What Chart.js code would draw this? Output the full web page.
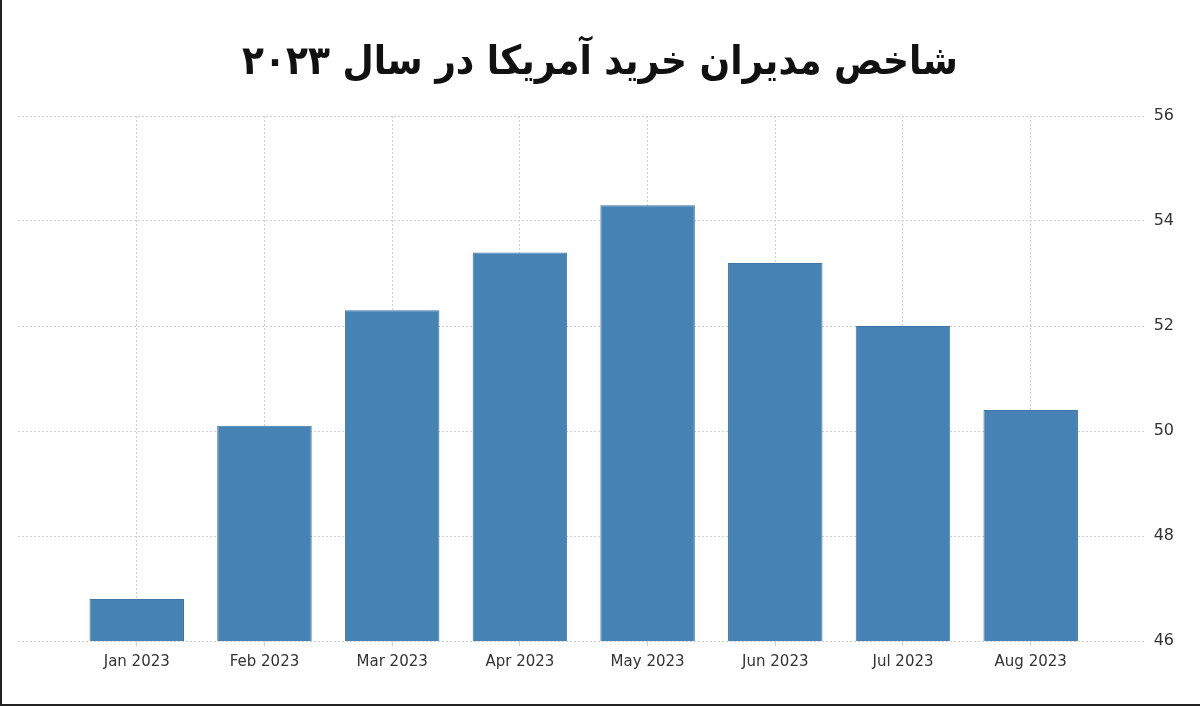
<!DOCTYPE html>
<html>
<head>
<meta charset="utf-8">
<script src="https://cdn.jsdelivr.net/npm/chart.js@4"></script>
<style>
  html, body { margin: 0; padding: 0; background: #fff; }
  #wrap { width: 1200px; height: 706px; position: relative; box-sizing: border-box; border-left: 2px solid #222; border-bottom: 2px solid #222; }
</style>
</head>
<body>
<div id="wrap"><canvas id="pmiChart" width="1198" height="704"></canvas></div>
<script>
const months = ['Jan 2023', 'Feb 2023', 'Mar 2023', 'Apr 2023', 'May 2023', 'Jun 2023', 'Jul 2023', 'Aug 2023'];
const pmi = [46.8, 50.1, 52.3, 53.4, 54.3, 53.2, 52.0, 50.4];
const yTicks = [46, 48, 50, 52, 54, 56];
const title = 'شاخص مدیران خرید آمریکا در سال ۲۰۲۳';

const points = pmi.map((v, i) => ({x: i, y: v}));

new Chart(document.getElementById('pmiChart'), {
    type: 'bar',
    data: {
        datasets: [{
            label: 'PMI',
            data: points,
            backgroundColor: '#4682b4',
            borderColor: '#3d76a6',
            borderWidth: 1,
            barPercentage: 0.74,
            categoryPercentage: 1
        }]
    },
    options: {
        responsive: false,
        animation: false,
        layout: { padding: { top: 40, right: 18, bottom: 26, left: 16 } },
        plugins: {
            legend: { display: false },
            tooltip: { enabled: false },
            title: {
                display: true,
                text: title,
                color: '#111',
                font: { family: 'DejaVu Sans Condensed', size: 40, weight: 'bold' },
                padding: { top: 0, bottom: 28 }
            }
        },
        scales: {
            x: {
                type: 'linear',
                min: -0.93,
                max: 7.9,
                offset: false,
                grid: {
                    offset: false,
                    color: '#cfcfcf',
                    lineWidth: 1,
                    tickLength: 5,
                    tickColor: '#cfcfcf'
                },
                border: { display: false, dash: [2, 2] },
                ticks: {
                    stepSize: 1,
                    includeBounds: false,
                    autoSkip: false,
                    maxRotation: 0,
                    color: '#333',
                    font: { family: 'DejaVu Sans', size: 15 },
                    padding: 7,
                    callback: v => months[v] || ''
                }
            },
            y: {
                position: 'right',
                min: yTicks[0],
                max: yTicks[yTicks.length - 1],
                grid: { color: '#cfcfcf', lineWidth: 1, drawTicks: false },
                border: { display: false, dash: [2, 2] },
                ticks: {
                    stepSize: 2,
                    color: '#333',
                    padding: 8,
                    font: { family: 'DejaVu Sans', size: 16 }
                }
            }
        }
    }
});
</script>
</body>
</html>
